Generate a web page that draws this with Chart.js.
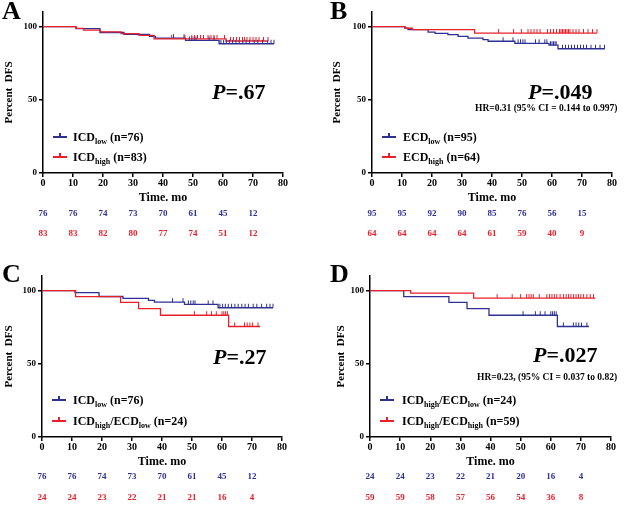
<!DOCTYPE html>
<html><head><meta charset="utf-8">
<script src="https://cdn.jsdelivr.net/npm/chart.js@4.4.0/dist/chart.umd.min.js"></script>
<style>
body{margin:0;width:640px;height:505px;position:relative;background:#fff;overflow:hidden;font-family:'Liberation Serif','Times New Roman',serif;font-weight:bold;}
canvas{position:absolute;}
.t{position:absolute;white-space:nowrap;color:#000;}
.lab{font-size:26px;line-height:26px;}
.p{font-size:22px;line-height:22px;}
.p i{font-style:italic;}
.hr{font-size:9.5px;line-height:10px;}
.lg{font-size:12px;line-height:12px;}
.lg sub{font-size:8px;vertical-align:baseline;position:relative;top:3px;}
.mk{position:absolute;}
</style></head><body>
<canvas id="cA" width="320" height="252" style="left:0;top:0"></canvas>
<canvas id="cB" width="320" height="252" style="left:320px;top:0"></canvas>
<canvas id="cC" width="320" height="253" style="left:0;top:252px"></canvas>
<canvas id="cD" width="320" height="253" style="left:320px;top:252px"></canvas>

<div class="t lab" style="left:2px;top:-2px">A</div>
<div class="t lab" style="left:330px;top:-2px">B</div>
<div class="t lab" style="left:2px;top:261px">C</div>
<div class="t lab" style="left:330px;top:261px">D</div>

<div class="t p" style="left:212px;top:81px"><i>P</i>=.67</div>
<div class="t p" style="left:528px;top:81px"><i>P</i>=.049</div>
<div class="t hr" style="left:475px;top:103px">HR=0.31 (95% CI = 0.144 to 0.997)</div>
<div class="t p" style="left:213px;top:346px"><i>P</i>=.27</div>
<div class="t p" style="left:533px;top:344px"><i>P</i>=.027</div>
<div class="t hr" style="left:477px;top:372px">HR=0.23, (95% CI = 0.037 to 0.82)</div>

<div id="legends"></div>

<script>
const FF = "'Liberation Serif', 'Times New Roman', serif";
const BLUE = '#2e3192';
const RED = '#e8202a';

// axis ticks
const timeTicks = [0, 10, 20, 30, 40, 50, 60, 70, 80];
const riskTimes = [0, 10, 20, 30, 40, 50, 60, 70];
const yTicks = [0, 50, 100];

// ICD low (n=76)
const icdLowTime = [0, 11, 19, 27, 35.5, 37.5, 47.5, 58.7];
const icdLowSurv = [100, 98.7, 96.0, 94.7, 93.4, 92.1, 90.6, 88.3];
const icdLowEnd = 77;
const icdLowCensor = [43.5, 47, 48.8, 49.6, 50.4, 51, 55.4, 57, 59.3, 60.2, 61.1, 62.1, 63.2, 64.3, 65.4, 66.6, 67.7, 68.8, 70.4, 71.6, 73.2, 74.9, 76, 77];
const icdLowRisk = [76, 76, 74, 73, 70, 61, 45, 12];

// ICD high (n=83)
const icdHighTime = [0, 11, 13.5, 19, 26, 32, 37, 61];
const icdHighSurv = [100, 98.8, 97.6, 96.4, 95.2, 94.0, 91.6, 90.2];
const icdHighEnd = 75;
const icdHighCensor = [42.9, 47.3, 49.6, 50.5, 51.5, 52.5, 53.5, 55, 56, 57, 58, 60.5, 62.5, 63.5, 64.5, 65.5, 66.5, 67.2, 68, 69, 70, 71, 72, 73.5, 75];
const icdHighRisk = [83, 83, 82, 80, 77, 74, 51, 12];

// ECD low (n=95)
const ecdLowTime = [0, 11, 12, 18.7, 21, 25.3, 28.7, 32, 37, 38.7, 47.6, 59, 62];
const ecdLowSurv = [100, 98.9, 97.9, 96.3, 95.4, 94.5, 93.4, 92.2, 91.1, 90.0, 88.6, 87.3, 84.9];
const ecdLowEnd = 77.6;
const ecdLowCensor = [43.7, 47, 48.7, 49.5, 50.3, 51, 54.5, 55.7, 57.6, 58.3, 59.5, 60, 60.5, 61, 61.4, 63.5, 64.5, 65.5, 66.5, 67.5, 68.5, 69.5, 70.5, 71.5, 73, 74.5, 76, 77.5];
const ecdLowRisk = [95, 95, 92, 90, 85, 76, 56, 15];

// ECD high (n=64)
const ecdHighTime = [0, 11, 13.5, 34.2];
const ecdHighSurv = [100, 98.9, 97.9, 95.6];
const ecdHighEnd = 75;
const ecdHighCensor = [42.2, 47.2, 49.8, 52, 53, 54, 55, 56, 58.5, 59.5, 60.5, 61.5, 62.5, 63, 63.5, 64, 64.5, 65, 65.5, 66, 67, 68, 69, 70.5, 72, 73.5, 75];
const ecdHighRisk = [64, 64, 64, 64, 61, 59, 40, 9];

// ICD high / ECD low (n=24)
const hiLoTime = [0, 11.2, 26.2, 32.2, 39.5, 62.2];
const hiLoSurv = [100, 95.9, 92.0, 87.7, 83.2, 75.5];
const hiLoEnd = 72.7;
const hiLoCensor = [50.8, 54.9, 56.5, 58.1, 60, 60.6, 61.2, 61.8, 64.2, 67.5, 68.4, 69.3, 70.2, 72];
const hiLoRiskC = [24, 24, 23, 22, 21, 21, 16, 4];
const hiLoRiskD = [24, 24, 23, 22, 21, 20, 16, 4];

// ICD high / ECD high (n=59)
const hiHiTime = [0, 13.5, 34.4];
const hiHiSurv = [100, 98.3, 94.9];
const hiHiEnd = 74.8;
const hiHiCensor = [42.2, 47.2, 50, 52, 52.8, 53.5, 54.2, 56.2, 58.7, 59.6, 60.4, 61.2, 62, 63.1, 64.2, 65.1, 65.9, 66.7, 67.6, 68.4, 69.2, 70, 70.9, 72, 73.1, 74.2];
const hiHiRisk = [59, 59, 58, 57, 56, 54, 36, 8];

function kmPoints(times, surv, end, censor) {
  const pts = times.map((t, i) => ({x: t, y: surv[i], c: false}));
  censor.forEach(c => {
    let s = surv[0];
    for (let i = 0; i < times.length; i++) if (times[i] <= c) s = surv[i];
    pts.push({x: c, y: s, c: true});
  });
  pts.push({x: end, y: surv[surv.length - 1], c: false});
  pts.sort((a, b) => a.x - b.x);
  return pts;
}

const censorPlugin = {
  id: 'censorTicks',
  afterDatasetsDraw(chart) {
    const ctx = chart.ctx;
    ctx.save();
    for (let d = chart.data.datasets.length - 1; d >= 0; d--) {
      const ds = chart.data.datasets[d];
      const meta = chart.getDatasetMeta(d);
      ctx.strokeStyle = ds.borderColor;
      ctx.lineWidth = 1;
      meta.data.forEach((el, j) => {
        if (ds.data[j].c) {
          ctx.beginPath();
          ctx.moveTo(el.x, el.y);
          ctx.lineTo(el.x, el.y - 4);
          ctx.stroke();
        }
      });
    }
    ctx.restore();
  }
};

const riskPlugin = {
  id: 'riskTable',
  afterDraw(chart, args, opts) {
    const ctx = chart.ctx;
    const xs = chart.scales.x;
    ctx.save();
    ctx.font = "bold 9px " + FF;
    ctx.textAlign = 'center';
    ctx.textBaseline = 'middle';
    opts.rows.forEach((row, r) => {
      ctx.fillStyle = row.color;
      row.values.forEach((v, i) => {
        ctx.fillText(String(v), xs.getPixelForValue(riskTimes[i]), xs.bottom + opts.offsets[r]);
      });
    });
    ctx.restore();
  }
};

function makePanel(id, pad, yWidth, blue, red, riskBlue, riskRed, offsets) {
  const gridOpt = {drawOnChartArea: false, drawTicks: true, tickLength: 4, color: '#000', lineWidth: 1.5};
  const borderOpt = {display: true, color: '#000', width: 1.5};
  new Chart(document.getElementById(id), {
    type: 'line',
    data: {
      datasets: [
        {data: red, borderColor: RED, borderWidth: 1.3, pointRadius: 0, stepped: true, fill: false},
        {data: blue, borderColor: BLUE, borderWidth: 1.3, pointRadius: 0, stepped: true, fill: false}
      ]
    },
    options: {
      responsive: false, animation: false, devicePixelRatio: 1,
      layout: {padding: pad},
      scales: {
        x: {
          type: 'linear', min: 0, max: 80,
          afterBuildTicks: s => { s.ticks = timeTicks.map(v => ({value: v})); },
          afterFit: s => { s.height = 32; },
          grid: gridOpt, border: borderOpt,
          ticks: {color: '#000', font: {family: FF, size: 10, weight: 'bold'}, padding: 0, maxRotation: 0, autoSkip: false},
          title: {display: true, text: 'Time. mo', color: '#000', font: {family: FF, size: 12, weight: 'bold'}, padding: {top: 0, bottom: 0}}
        },
        y: {
          type: 'linear', min: 0, max: 110,
          afterBuildTicks: s => { s.ticks = yTicks.map(v => ({value: v})); },
          afterFit: s => { s.width = yWidth; },
          grid: gridOpt, border: borderOpt,
          ticks: {color: '#000', font: {family: FF, size: 9, weight: 'bold'}, padding: 2},
          title: {display: true, text: 'Percent  DFS', color: '#000', font: {family: FF, size: 11, weight: 'bold'}, padding: {top: 3, bottom: 0}}
        }
      },
      plugins: {
        legend: {display: false}, tooltip: {enabled: false},
        riskTable: {rows: [{values: riskBlue, color: BLUE}, {values: riskRed, color: RED}], offsets: offsets}
      }
    },
    plugins: [censorPlugin, riskPlugin]
  });
}

makePanel('cA', {left: 0, right: 37, top: 12, bottom: 47}, 43,
  kmPoints(icdLowTime, icdLowSurv, icdLowEnd, icdLowCensor),
  kmPoints(icdHighTime, icdHighSurv, icdHighEnd, icdHighCensor),
  icdLowRisk, icdHighRisk, [8.3, 29]);
makePanel('cB', {left: 8, right: 28, top: 12, bottom: 47}, 44,
  kmPoints(ecdLowTime, ecdLowSurv, ecdLowEnd, ecdLowCensor),
  kmPoints(ecdHighTime, ecdHighSurv, ecdHighEnd, ecdHighCensor),
  ecdLowRisk, ecdHighRisk, [8.3, 29]);
makePanel('cC', {left: 0, right: 38, top: 24, bottom: 36}, 42,
  kmPoints(icdLowTime, icdLowSurv, icdLowEnd, icdLowCensor),
  kmPoints(hiLoTime, hiLoSurv, hiLoEnd, hiLoCensor),
  icdLowRisk, hiLoRiskC, [7.7, 28.3]);
makePanel('cD', {left: 12, right: 29, top: 24, bottom: 36}, 38,
  kmPoints(hiLoTime, hiLoSurv, hiLoEnd, hiLoCensor),
  kmPoints(hiHiTime, hiHiSurv, hiHiEnd, hiHiCensor),
  hiLoRiskD, hiHiRisk, [7.7, 28.3]);

// legends
const legendItems = [
  {x: 53, tx: 73, y: 137, color: BLUE, html: 'ICD<sub>low</sub> (n=76)'},
  {x: 53, tx: 73, y: 157, color: RED, html: 'ICD<sub>high</sub> (n=83)'},
  {x: 382, tx: 403, y: 137, color: BLUE, html: 'ECD<sub>low</sub> (n=95)'},
  {x: 382, tx: 403, y: 157, color: RED, html: 'ECD<sub>high</sub> (n=64)'},
  {x: 52, tx: 73, y: 400, color: BLUE, html: 'ICD<sub>low</sub> (n=76)'},
  {x: 52, tx: 73, y: 421, color: RED, html: 'ICD<sub>high</sub>/ECD<sub>low</sub> (n=24)'},
  {x: 380, tx: 402, y: 400, color: BLUE, html: 'ICD<sub>high</sub>/ECD<sub>low</sub> (n=24)'},
  {x: 380, tx: 402, y: 421, color: RED, html: 'ICD<sub>high</sub>/ECD<sub>high</sub> (n=59)'}
];
const lg = document.getElementById('legends');
legendItems.forEach(it => {
  const l = document.createElement('div');
  l.className = 'mk';
  l.style.cssText = `left:${it.x}px;top:${it.y - 0.7}px;width:14px;height:1.4px;background:${it.color}`;
  lg.appendChild(l);
  const tk = document.createElement('div');
  tk.className = 'mk';
  tk.style.cssText = `left:${it.x + 6.4}px;top:${it.y - 4}px;width:1.3px;height:4px;background:${it.color}`;
  lg.appendChild(tk);
  const t = document.createElement('div');
  t.className = 't lg';
  t.style.cssText = `left:${it.tx}px;top:${it.y - 6}px`;
  t.innerHTML = it.html;
  lg.appendChild(t);
});
</script>
</body></html>
